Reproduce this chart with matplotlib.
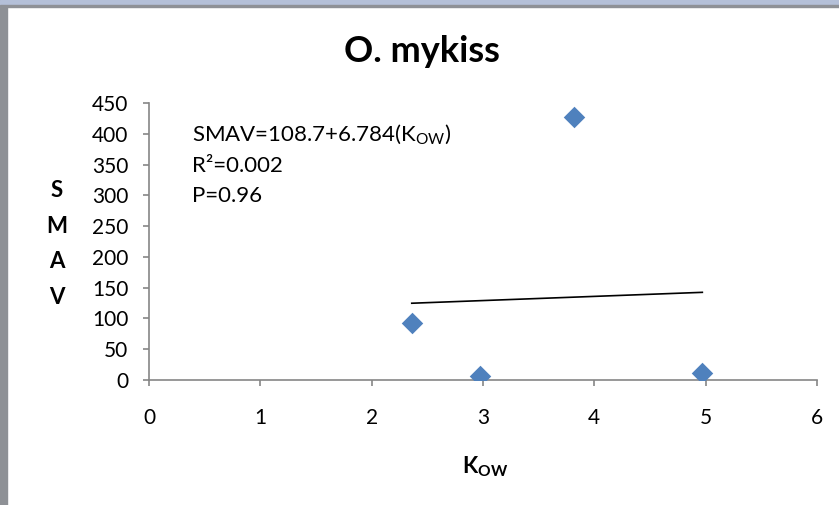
import numpy as np
import matplotlib
matplotlib.use('Agg')
import matplotlib.pyplot as plt
from matplotlib.patches import Rectangle

plt.rcParams['font.family'] = ['Lato', 'DejaVu Sans']
plt.rcParams['mathtext.fontset'] = 'custom'
plt.rcParams['mathtext.rm'] = 'Lato'
plt.rcParams['mathtext.bf'] = 'Lato:bold'
plt.rcParams['mathtext.default'] = 'regular'

# data
kow = [2.36, 2.97, 3.82, 4.97]
smav = [92, 6, 427, 11]
intercept = 108.7
slope = 6.784
xticks = [0, 1, 2, 3, 4, 5, 6]
yticks = [0, 50, 100, 150, 200, 250, 300, 350, 400, 450]

fig = plt.figure(figsize=(8.39, 5.05), dpi=100)
ax = fig.add_axes([149/839, 1-380/505, 668/839, 277/505])

# window border from the screenshot
fig.patches.append(Rectangle((0, 0), 7/839, 1, transform=fig.transFigure, color='#8e9196', zorder=0))
fig.patches.append(Rectangle((0, 1-5/505), 1, 5/505, transform=fig.transFigure, color='#b4c0d8', zorder=0))
fig.patches.append(Rectangle((0, 1-7/505), 1, 2/505, transform=fig.transFigure, color='#8e9196', zorder=0))

ax.scatter(kow, smav, marker='D', s=120, color='#4f81bd', zorder=3, linewidths=0)
xf = np.array([min(kow), max(kow)])
ax.plot(xf, intercept + slope*xf, color='black', lw=1.2, zorder=2)

ax.set_xlim(0, 6)
ax.set_ylim(0, 450)
ax.set_xticks(xticks)
ax.set_yticks(yticks)
for s in ['top', 'right']:
    ax.spines[s].set_visible(False)
for s in ['left', 'bottom']:
    ax.spines[s].set_color('#868686')
    ax.spines[s].set_linewidth(1.2)
ax.tick_params(axis='x', direction='out', length=4, width=1.2, color='#868686', pad=16, labelsize=15)
ax.tick_params(axis='y', direction='out', length=4, width=1.2, color='#868686', pad=11, labelsize=15)

ax.text(0.386, 418, 'SMAV=108.7+6.784(K$_{OW}$)\nR²=0.002\nP=0.96', fontsize=16,
        va='top', ha='left', linespacing=1.62)

fig.text(422/839, 1-52/505, 'O. mykiss', fontsize=26, fontweight='bold', ha='center', va='center')
fig.text(57/839, 1-244/505, 'S\nM\nA\nV', fontsize=16, fontweight='bold', ha='center', va='center',
         linespacing=1.88)
fig.text(485/839, 1-467/505, r'K$_\mathbf{OW}$', fontsize=16, fontweight='bold', ha='center', va='center')

fig.savefig('out.png', dpi=100)
